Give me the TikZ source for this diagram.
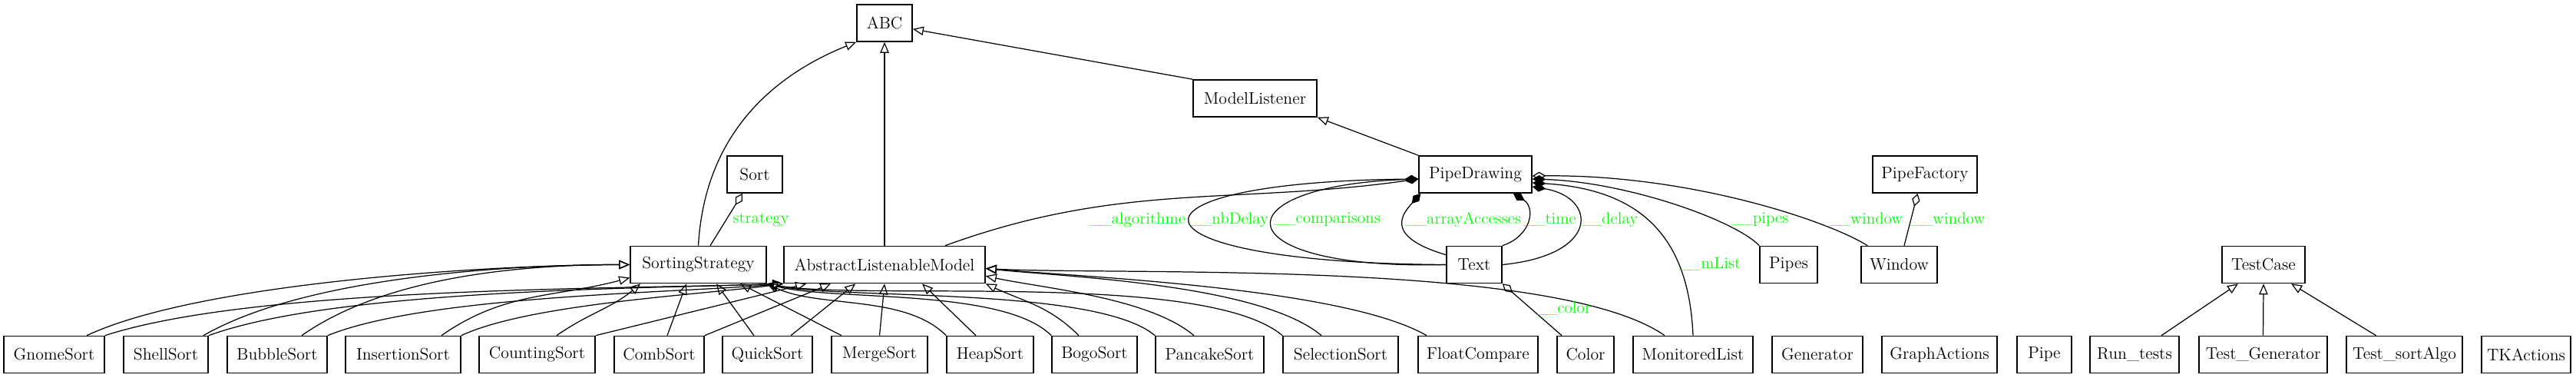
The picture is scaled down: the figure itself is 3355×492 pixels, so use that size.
\documentclass[tikz,border=0pt]{standalone}
\usepackage{tikz}
\usepackage{xcolor}
\usetikzlibrary{arrows.meta}

\definecolor{attrgreen}{RGB}{0,255,0}
\newcommand{\dunder}{\_\kern-0.12em\_}

\tikzset{
  classbox/.style={draw, line width=0.9pt, minimum height=0.96cm, inner xsep=2pt, font=\fontsize{12.4}{15}\selectfont},
  attr/.style={text=attrgreen, inner sep=0pt, font=\fontsize{12}{14}\selectfont},
  inherit/.style={line width=0.7pt, -{Triangle[open, length=8pt, width=6.5pt]}},
  compose/.style={line width=0.7pt, -{Diamond[length=10pt, width=6pt]}},
  aggregate/.style={line width=0.7pt, -{Diamond[open, length=10pt, width=6pt]}},
}

\begin{document}
\begin{tikzpicture}[x=0.02cm, y=0.02cm]
  \useasboundingbox (0,0) rectangle (3355,492);

  % upper classes
  \node[classbox, minimum width=1.44cm] (abc) at (1152,462) {ABC};
  \node[classbox, minimum width=3.22cm] (listener) at (1634.5,364) {ModelListener};
  \node[classbox, minimum width=1.44cm] (sort) at (983,265) {Sort};
  \node[classbox, minimum width=2.94cm] (pipedraw) at (1921.5,265) {PipeDrawing};
  \node[classbox, minimum width=2.72cm] (pipefact) at (2507,265) {PipeFactory};

  % middle row
  \node[classbox, minimum width=3.54cm] (strategy) at (909.5,147.5) {SortingStrategy};
  \node[classbox, minimum width=5.24cm] (model) at (1152,147.5) {AbstractListenableModel};
  \node[classbox, minimum width=1.44cm] (text) at (1920,147.5) {Text};
  \node[classbox, minimum width=1.5cm] (pipes) at (2329.5,147.5) {Pipes};
  \node[classbox, minimum width=1.98cm] (window) at (2473.5,147.5) {Window};
  \node[classbox, minimum width=2.16cm] (testcase) at (2948,147.5) {TestCase};

  % bottom row
  \node[classbox, minimum width=2.62cm] (gnome) at (70.5,30.5) {GnomeSort};
  \node[classbox, minimum width=2.2cm] (shell) at (216,30.5) {ShellSort};
  \node[classbox, minimum width=2.6cm] (bubble) at (361,30.5) {BubbleSort};
  \node[classbox, minimum width=3cm] (insertion) at (525,30.5) {InsertionSort};
  \node[classbox, minimum width=3.02cm] (counting) at (699.5,30.5) {CountingSort};
  \node[classbox, minimum width=2.34cm] (comb) at (858.5,30.5) {CombSort};
  \node[classbox, minimum width=2.34cm] (quick) at (999.5,30.5) {QuickSort};
  \node[classbox, minimum width=2.5cm] (merge) at (1145.5,30.5) {MergeSort};
  \node[classbox, minimum width=2.26cm] (heap) at (1289.5,30.5) {HeapSort};
  \node[classbox, minimum width=2.22cm] (bogo) at (1425.5,30.5) {BogoSort};
  \node[classbox, minimum width=2.82cm] (pancake) at (1575.5,30.5) {PancakeSort};
  \node[classbox, minimum width=3cm] (selection) at (1746,30.5) {SelectionSort};
  \node[classbox, minimum width=3.12cm] (floatcmp) at (1925,30.5) {FloatCompare};
  \node[classbox, minimum width=1.48cm] (color) at (2065,30.5) {Color};
  \node[classbox, minimum width=3.12cm] (mlist) at (2205,30.5) {MonitoredList};
  \node[classbox, minimum width=2.36cm] (generator) at (2367,30.5) {Generator};
  \node[classbox, minimum width=3cm] (graphact) at (2526,30.5) {GraphActions};
  \node[classbox, minimum width=1.42cm] (pipe) at (2662.5,30.5) {Pipe};
  \node[classbox, minimum width=2.32cm] (runtests) at (2780,30.5) {Run\_tests};
  \node[classbox, minimum width=3.34cm] (testgen) at (2947.5,30.5) {Test\_Generator};
  \node[classbox, minimum width=3.02cm] (testsort) at (3131.5,30.5) {Test\_sortAlgo};
  \node[classbox, minimum width=2.32cm] (tkact) at (3290,30.5) {TKActions};

  % inheritance
  \draw[inherit] (model.north) -- (abc.south);
  \draw[inherit] (strategy.north) .. controls (918,320) and (1010,395) .. (abc.south west);
  \draw[inherit] (listener.north west) -- (abc.-12);
  \draw[inherit] (pipedraw.north west) -- (listener.south east);

  \draw[inherit] ([xshift=0.85cm]gnome.north) to[out=25, in=180, looseness=0.6] (strategy.west);
  \draw[inherit] ([xshift=0.98cm]shell.north) to[out=30, in=180, looseness=0.7] (strategy.west);
  \draw[inherit] ([xshift=0.64cm]bubble.north) to[out=35, in=180, looseness=0.8] (strategy.west);
  \draw[inherit] ([xshift=1cm]insertion.north) to[out=35, in=195] ([yshift=-0.34cm]strategy.west);
  \draw[inherit] ([xshift=0.51cm]counting.north) to[out=35, in=220] ([xshift=0.28cm]strategy.south west);
  \draw[inherit] ([xshift=0.21cm]comb.north) -- ([xshift=-0.31cm]strategy.south);
  \draw[inherit] ([xshift=-0.35cm]quick.north) -- ([xshift=0.47cm]strategy.south);
  \draw[inherit] ([xshift=-0.99cm]merge.north) -- ([xshift=1.09cm]strategy.south);
  \draw[inherit] (heap.north west) to[out=135, in=-25, looseness=0.8] (strategy.south east);
  \draw[inherit] (bogo.north west) to[out=135, in=-15, looseness=0.6] (strategy.south east);
  \draw[inherit] (pancake.north west) to[out=140, in=-12, looseness=0.5] (strategy.south east);
  \draw[inherit] (selection.north west) to[out=140, in=-10, looseness=0.5] (strategy.south east);

  \draw[inherit] (gnome.north east) to[out=18, in=182, looseness=0.6] (model.south west);
  \draw[inherit] (shell.north east) to[out=20, in=182, looseness=0.6] (model.south west);
  \draw[inherit] (bubble.north east) to[out=22, in=185, looseness=0.6] (model.south west);
  \draw[inherit] (insertion.north east) to[out=25, in=188, looseness=0.6] (model.south west);
  \draw[inherit] (counting.north east) -- ([xshift=0.6cm]model.south west);
  \draw[inherit] (comb.north east) -- ([xshift=1.24cm]model.south west);
  \draw[inherit] ([xshift=0.61cm]quick.north) -- ([xshift=1.88cm]model.south west);
  \draw[inherit] (merge.north) -- (model.south);
  \draw[inherit] ([xshift=-0.37cm]heap.north) -- ([xshift=0.98cm]model.south);
  \draw[inherit] ([xshift=-0.41cm]bogo.north) to[out=135, in=-25] (model.south east);
  \draw[inherit] ([xshift=-0.41cm]pancake.north) to[out=140, in=-12, looseness=0.7] ([yshift=0.2cm]model.south east);
  \draw[inherit] ([xshift=-0.5cm]selection.north) to[out=140, in=-6, looseness=0.6] ([yshift=-0.1cm]model.east);
  \draw[inherit] ([xshift=-1.34cm]floatcmp.north) to[out=150, in=-5, looseness=0.55] ([yshift=-0.1cm]model.east);
  \draw[inherit] ([xshift=-0.74cm]mlist.north) to[out=145, in=-3, looseness=0.5] ([yshift=-0.1cm]model.east);

  \draw[inherit] ([xshift=0.7cm]runtests.north) -- ([xshift=-0.66cm]testcase.south);
  \draw[inherit] (testgen.north) -- (testcase.south);
  \draw[inherit] ([xshift=-0.74cm]testsort.north) -- ([xshift=0.72cm]testcase.south);

  % attributes
  \draw[aggregate] ([xshift=0.31cm]strategy.north) -- ([xshift=-0.32cm]sort.south);
  \draw[aggregate] ([xshift=0.13cm]window.north) -- ([xshift=-0.19cm]pipefact.south);
  \draw[aggregate] ([xshift=-0.62cm]color.north) -- (text.south east);
  \draw[compose] ([xshift=1.58cm]model.north) to[out=20, in=188] ([yshift=-0.12cm]pipedraw.west);
  \draw[compose] (text.west) .. controls (1450,150) and (1440,255) .. ([yshift=-0.12cm]pipedraw.west);
  \draw[compose] (text.west) .. controls (1590,140) and (1585,250) .. ([yshift=-0.12cm]pipedraw.west);
  \draw[compose] ([yshift=-0.24cm]text.north west) .. controls (1800,185) and (1828,215) .. ([xshift=0.06cm]pipedraw.south west);
  \draw[compose] (text.north east) .. controls (1995,185) and (2000,222) .. ([xshift=-0.5cm]pipedraw.south east);
  \draw[compose] (text.east) .. controls (2085,160) and (2080,235) .. ([yshift=-0.32cm]pipedraw.east);
  \draw[compose] (mlist.north) .. controls (2200,170) and (2150,245) .. ([yshift=-0.22cm]pipedraw.east);
  \draw[compose] (pipes.north west) .. controls (2260,205) and (2120,255) .. ([yshift=-0.12cm]pipedraw.east);
  \draw[aggregate] ([xshift=0.18cm]window.north west) .. controls (2380,205) and (2200,265) .. ([yshift=-0.04cm]pipedraw.east);

  \node[attr] (l-strategy) at (991,206) {strategy};
  \node[attr] (l-algo) at (1481.5,206) {\dunder algorithme};
  \node[attr] (l-nbdelay) at (1601,206) {\dunder nbDelay};
  \node[attr] (l-comp) at (1728.5,206) {\dunder comparisons};
  \node[attr] (l-access) at (1905.5,206) {\dunder arrayAccesses};
  \node[attr] (l-time) at (2018.5,206) {\dunder time};
  \node[attr] (l-delay) at (2095.5,206) {\dunder delay};
  \node[attr] (l-pipes) at (2292,206) {\dunder pipes};
  \node[attr] (l-win) at (2430,206) {\dunder window};
  \node[attr] (l-win2) at (2537,206) {\dunder window};
  \node[attr] (l-mlist) at (2227,148) {\dunder mList};
  \node[attr] (l-color) at (2036,90) {\dunder color};
\end{tikzpicture}
\end{document}
